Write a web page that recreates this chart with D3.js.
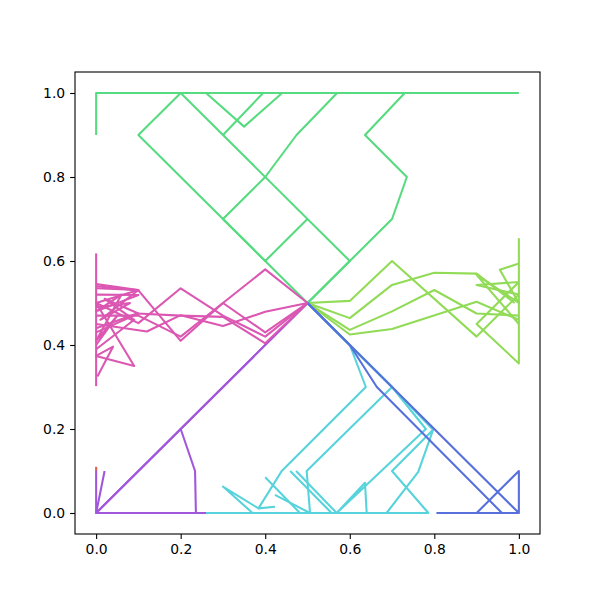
<!DOCTYPE html>
<html><head><meta charset="utf-8">
<script src="https://cdn.jsdelivr.net/npm/d3@7"></script>
<style>body{margin:0;background:#fff}svg{display:block}text{font-family:"DejaVu Sans",sans-serif}</style>
</head><body>
<script>
const tickValues = [0, 0.2, 0.4, 0.6, 0.8, 1.0];
const seriesNames = ["red", "yellowgreen", "green", "cyan", "blue", "purple", "magenta"];
const seriesColors = ["#db5f57", "#91db57", "#57db80", "#57d3db", "#5770db", "#a157db", "#db57b2"];

const redPaths = [
  [[0,0.1],[0,0.11]]
];
const yellowGreenPaths = [
  [[0.5,0.5],[0.6,0.505],[0.7,0.6],[0.9,0.42],[1,0.52]],
  [[0.5,0.5],[0.6,0.464],[0.7,0.543],[0.8,0.572],[0.9,0.57],[0.99,0.5]],
  [[0.5,0.5],[0.6,0.436],[0.7,0.48],[0.8,0.531],[0.9,0.475],[1,0.47]],
  [[0.5,0.5],[0.6,0.425],[0.7,0.438],[0.9,0.503],[1,0.46]],
  [[1,0.654],[1,0.356],[0.9,0.45],[1,0.55],[0.9,0.543],[1,0.52]],
  [[1,0.594],[0.955,0.579],[1,0.5],[0.9,0.567],[1,0.45]]
];
const greenPaths = [
  [[0,0.9],[0,1],[1,1]],
  [[0,1],[0.73,1]],
  [[0.5,0.5],[0.3,0.7],[0.1,0.9],[0.2,1.0],[0.6,0.6],[0.5,0.5]],
  [[0.5,0.5],[0.7,0.7],[0.735,0.8],[0.636,0.9],[0.73,1.0]],
  [[0.4,0.8],[0.3,0.7],[0.4,0.6],[0.5,0.7]],
  [[0.4,0.8],[0.474,0.9],[0.57,1.0]],
  [[0.3,0.9],[0.395,1.0]],
  [[0.26,1.0],[0.35,0.92],[0.44,1.0]]
];
const cyanPaths = [
  [[0.26,0],[0.786,0]],
  [[0.5,0.5],[0.6,0.4],[0.638,0.3],[0.439,0.1],[0.384,0.011],[0.3,0.063],[0.37,0.0]],
  [[0.384,0.011],[0.423,0.015]],
  [[0.5,0.5],[0.7,0.3],[0.498,0.1],[0.506,0],[0.6,0]],
  [[0.5,0.5],[0.7,0.3],[0.78,0.2],[0.569,0],[0.636,0.072],[0.64,0]],
  [[0.5,0.5],[0.7,0.3],[0.797,0.198],[0.762,0.098],[0.687,0],[0.786,0],[0.7,0.1],[0.797,0.198]],
  [[0.4,0.085],[0.482,0]],
  [[0.423,0.043],[0.506,0]],
  [[0.459,0.1],[0.557,0]],
  [[0.473,0.1],[0.569,0]]
];
const bluePaths = [
  [[0.5,0.5],[1,0],[1,0.1],[0.9,0],[1,0]],
  [[0.5,0.5],[0.6,0.4],[0.664,0.3],[0.96,0],[0.805,0]]
];
const purplePaths = [
  [[0.5,0.5],[0,0],[0,0.1]],
  [[0.5,0.5],[0.2,0.2],[0.234,0.1],[0.236,0],[0,0],[0.02,0.1]],
  [[0,0],[0.26,0]],
  [[0,0],[0.1,0]],
  [[0,0],[0.2,0.2]]
];
const magentaPaths = [
  [[0.5,0.5],[0.4,0.58],[0.3,0.5],[0.2,0.42],[0.1,0.47],[0,0.47]],
  [[0.5,0.5],[0.4,0.43],[0.3,0.5],[0.2,0.41],[0.1,0.53],[0,0.54]],
  [[0.5,0.5],[0.4,0.42],[0.3,0.47],[0.2,0.535],[0.1,0.452],[0,0.5]],
  [[0.5,0.5],[0.4,0.479],[0.3,0.445],[0.2,0.471],[0.12,0.432],[0,0.45]],
  [[0.5,0.5],[0.4,0.404],[0.3,0.467],[0.2,0.47],[0.097,0.475],[0,0.44]],
  [[0,0.618],[0,0.302]],
  [[0,0.545],[0.1,0.531],[0,0.5],[0.09,0.35],[0,0.374],[0.04,0.396],[0.003,0.325]],
  [[0,0.52],[0.1,0.519],[0,0.48],[0.06,0.52],[0,0.41],[0.05,0.47],[0,0.4]],
  [[0,0.535],[0.1,0.531],[0.01,0.46],[0.08,0.5],[0,0.49]],
  [[0,0.43],[0.1,0.475],[0.02,0.51],[0.09,0.46],[0,0.39]]
];
const allSeries = [redPaths, yellowGreenPaths, greenPaths, cyanPaths, bluePaths, purplePaths, magentaPaths];

const W = 600, H = 600;
const mLeft = 75, mRight = 540, mTop = 72, mBottom = 534;
const x = d3.scaleLinear().domain([-0.05, 1.05]).range([mLeft, mRight]);
const y = d3.scaleLinear().domain([-0.05, 1.05]).range([mBottom, mTop]);

const svg = d3.select("body").append("svg").attr("width", W).attr("height", H);
const line = d3.line().x(d => x(d[0])).y(d => y(d[1]));

allSeries.forEach((paths, i) => {
  svg.append("g").attr("class", seriesNames[i])
    .selectAll("path").data(paths).join("path")
    .attr("d", line).attr("fill", "none")
    .attr("stroke", seriesColors[i]).attr("stroke-width", 2.08)
    .attr("stroke-linejoin", "round").attr("stroke-linecap", "butt");
});

const fmt = d3.format(".1f");
const xAxis = svg.append("g").attr("transform", `translate(0,${mBottom})`)
  .call(d3.axisBottom(x).tickValues(tickValues).tickFormat(fmt).tickSize(4.9).tickPadding(4.9));
const yAxis = svg.append("g").attr("transform", `translate(${mLeft},0)`)
  .call(d3.axisLeft(y).tickValues(tickValues).tickFormat(fmt).tickSize(4.9).tickPadding(4.9));
[xAxis, yAxis].forEach(a => {
  a.select(".domain").remove();
  a.selectAll("line").attr("stroke", "#000").attr("stroke-width", 1.1);
  a.selectAll("text").attr("font-size", 13.9).attr("font-family", "DejaVu Sans").attr("fill", "#000");
});

svg.append("rect").attr("x", mLeft).attr("y", mTop)
  .attr("width", mRight - mLeft).attr("height", mBottom - mTop)
  .attr("fill", "none").attr("stroke", "#000").attr("stroke-width", 1.1);
</script>
</body></html>
